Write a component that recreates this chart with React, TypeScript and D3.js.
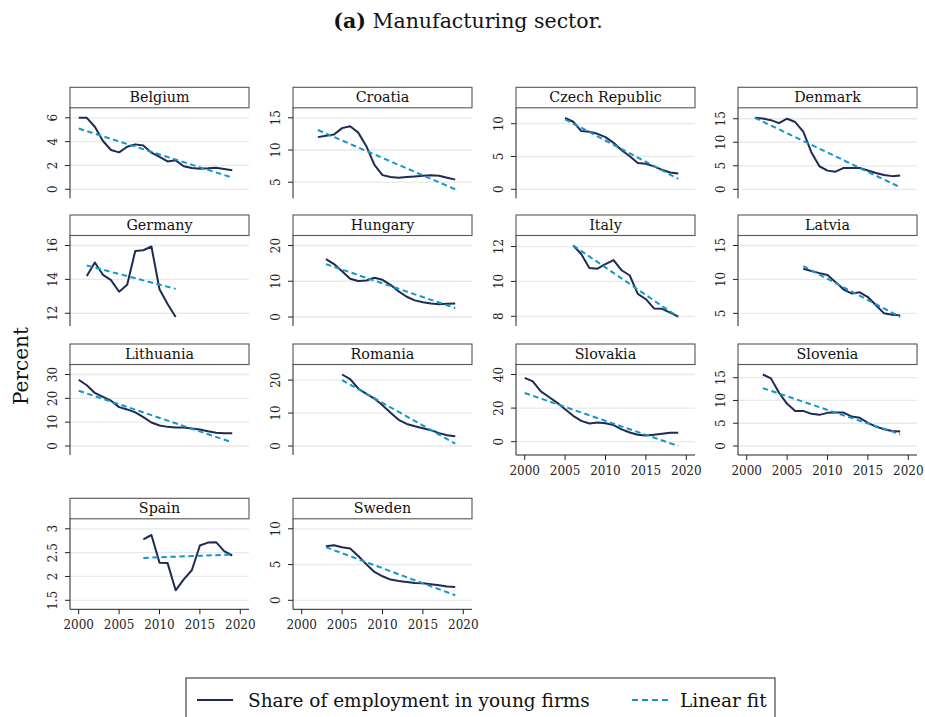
import React from "react";
import * as d3 from "d3";

const countries = ["Belgium", "Croatia", "Czech Republic", "Denmark", "Germany", "Hungary", "Italy", "Latvia", "Lithuania", "Romania", "Slovakia", "Slovenia", "Spain", "Sweden"];
const startYears = [2000, 2002, 2005, 2001, 2001, 2003, 2006, 2007, 2000, 2005, 2000, 2002, 2008, 2003];

const belgium = [6.0, 6.0, 5.25, 4.05, 3.3, 3.1, 3.57, 3.77, 3.68, 3.07, 2.73, 2.34, 2.43, 1.93, 1.79, 1.73, 1.76, 1.81, 1.7, 1.59];
const croatia = [12.0, 12.2, 12.4, 13.4, 13.7, 12.7, 10.6, 7.7, 6.1, 5.8, 5.7, 5.8, 5.9, 6.0, 6.1, 6.0, 5.7, 5.4];
const czech = [10.9, 10.3, 8.87, 8.77, 8.46, 7.95, 7.08, 5.95, 5.03, 4.0, 3.9, 3.49, 2.97, 2.56, 2.41];
const denmark = [15.2, 15.07, 14.7, 14.06, 15.0, 14.3, 12.25, 7.9, 4.9, 3.97, 3.75, 4.54, 4.54, 4.54, 4.0, 3.46, 3.03, 2.8, 2.95];
const germany = [14.2, 15.0, 14.27, 13.96, 13.27, 13.68, 15.68, 15.72, 15.94, 13.42, 12.55, 11.78];
const hungary = [16.2, 14.8, 12.8, 10.7, 10.05, 10.2, 10.98, 10.4, 9.0, 7.16, 5.67, 4.65, 4.1, 3.8, 3.6, 3.7, 3.8];
const italy = [12.06, 11.57, 10.77, 10.73, 10.99, 11.22, 10.64, 10.34, 9.29, 8.98, 8.45, 8.43, 8.21, 7.98];
const latvia = [11.57, 11.23, 10.93, 10.64, 9.6, 8.5, 7.94, 8.1, 7.4, 6.2, 5.0, 4.8, 4.7];
const lithuania = [27.8, 25.5, 22.25, 20.6, 19.0, 16.3, 15.35, 14.1, 12.1, 9.86, 8.6, 8.03, 7.75, 7.75, 7.3, 6.9, 6.2, 5.6, 5.35, 5.35];
const romania = [21.7, 20.3, 17.45, 15.8, 14.4, 12.35, 10.1, 7.96, 6.7, 6.0, 5.4, 4.8, 3.9, 3.27, 2.96];
const slovakia = [38.0, 35.9, 29.95, 26.6, 23.25, 19.3, 15.4, 12.4, 10.84, 11.4, 11.0, 9.85, 7.3, 5.5, 4.1, 3.74, 4.1, 4.7, 5.3, 5.3];
const slovenia = [15.7, 14.85, 11.7, 9.26, 7.7, 7.7, 7.06, 6.84, 7.28, 7.35, 7.35, 6.47, 6.18, 5.07, 4.26, 3.68, 3.3, 3.16];
const spain = [2.78, 2.87, 2.29, 2.28, 1.71, 1.94, 2.13, 2.65, 2.71, 2.72, 2.53, 2.44];
const sweden = [7.57, 7.7, 7.43, 7.24, 6.2, 5.05, 3.97, 3.36, 2.9, 2.7, 2.57, 2.43, 2.38, 2.24, 2.1, 1.92, 1.87];

const seriesValues = [belgium, croatia, czech, denmark, germany, hungary, italy, latvia, lithuania, romania, slovakia, slovenia, spain, sweden];

// linear fit values at first and last year
const fitStart = [5.1, 13.1, 10.67, 15.2, 14.82, 14.8, 12.06, 11.96, 23.2, 20.0, 29.0, 12.7, 2.39, 7.43];
const fitEnd = [0.98, 3.9, 1.6, 0.43, 13.44, 2.5, 7.96, 4.46, 1.55, 0.71, -2.56, 2.57, 2.46, 0.7];

const yTicks = [
  [0, 2, 4, 6], [5, 10, 15], [0, 5, 10], [0, 5, 10, 15],
  [12, 14, 16], [0, 10, 20], [8, 10, 12], [5, 10, 15],
  [0, 10, 20, 30], [0, 10, 20], [0, 20, 40], [0, 5, 10, 15],
  [1.5, 2, 2.5, 3], [0, 5, 10],
];
const xTicks = [2000, 2005, 2010, 2015, 2020];
const xDomain = [2000, 2020];

const titleLabel = "Manufacturing sector.";
const yLabel = "Percent";
const legendLabels = ["Share of employment in young firms", "Linear fit"];

const FONT = "'DejaVu Serif', serif";
const NAVY = "#1e2b52";
const FIT = "#1596c9";

const colLeft = [70, 293, 516, 738];
const panelW = 179;
const rowTop = [87.3, 215, 344, 498.3];
const headH = 20.5;
const plotH = 90.5;
const bottomPanels = new Set([10, 11, 12, 13]);

function Panel({ idx }: { idx: number }) {
  const row = Math.floor(idx / 4);
  const col = idx % 4;
  const left = colLeft[col];
  const top = rowTop[row];
  const plotTop = top + headH;
  const plotBottom = plotTop + plotH;
  const vals = seriesValues[idx];
  const start = startYears[idx];
  const years = vals.map((_, i) => start + i);
  const endYear = years[years.length - 1];
  const ticks = yTicks[idx];
  const ext = d3.extent([...vals, fitStart[idx], fitEnd[idx], ...ticks]) as [number, number];
  const x = d3.scaleLinear().domain(xDomain).range([left + 8.7, left + panelW - 8.7]);
  const y = d3.scaleLinear().domain(ext).range([plotBottom - 9, plotTop + 10]);
  const line = d3.line<number>().x((_, i) => x(years[i])).y((d) => y(d));
  const fitLine = d3.line<[number, number]>().x((d) => x(d[0])).y((d) => y(d[1]));
  const fitPts: [number, number][] = [[start, fitStart[idx]], [endYear, fitEnd[idx]]];
  const showX = bottomPanels.has(idx);
  return (
    <g>
      {ticks.map((t) => (
        <line key={"g" + t} x1={left} x2={left + panelW} y1={y(t)} y2={y(t)} stroke="#e9e9e9" strokeWidth={1.3} />
      ))}
      <rect x={left} y={top} width={panelW} height={headH} fill="#fff" stroke="#555" strokeWidth={1.1} />
      <text x={left + panelW / 2} y={top + 14.8} textAnchor="middle" fontFamily={FONT} fontSize={14.3} fill="#111">
        {countries[idx]}
      </text>
      <line x1={left} x2={left} y1={plotTop} y2={plotBottom} stroke="#222" strokeWidth={1} />
      {ticks.map((t) => (
        <g key={"t" + t}>
          <line x1={left - 5} x2={left} y1={y(t)} y2={y(t)} stroke="#222" strokeWidth={1} />
          <text transform={`translate(${left - 13},${y(t)}) rotate(-90)`} textAnchor="middle" fontFamily={FONT} fontSize={12} fill="#222">
            {String(t)}
          </text>
        </g>
      ))}
      {showX && (
        <g>
          <line x1={left} x2={left + panelW} y1={plotBottom} y2={plotBottom} stroke="#222" strokeWidth={1} />
          {xTicks.map((t) => (
            <g key={"x" + t}>
              <line x1={x(t)} x2={x(t)} y1={plotBottom} y2={plotBottom + 5} stroke="#222" strokeWidth={1} />
              <text x={x(t)} y={plotBottom + 20} textAnchor="middle" fontFamily={FONT} fontSize={12} fill="#222">
                {String(t)}
              </text>
            </g>
          ))}
        </g>
      )}
      <path d={line(vals) || ""} fill="none" stroke={NAVY} strokeWidth={2} strokeLinejoin="round" />
      <path d={fitLine(fitPts) || ""} fill="none" stroke={FIT} strokeWidth={2} strokeDasharray="5.5,3.5" />
    </g>
  );
}

export default function App() {
  return (
    <svg width={925} height={717} style={{ position: "absolute", left: 0, top: 0, background: "#fff" }}>
      <rect x={0} y={0} width={925} height={717} fill="#fff" />
      <text x={468} y={27.5} textAnchor="middle" fontFamily={FONT} fontSize={20.5} fill="#111">
        <tspan fontWeight="bold">(a)</tspan>
        <tspan> {titleLabel}</tspan>
      </text>
      <text transform="translate(28,366) rotate(-90)" textAnchor="middle" fontFamily={FONT} fontSize={20} fill="#111">
        {yLabel}
      </text>
      {countries.map((_, i) => (
        <Panel key={i} idx={i} />
      ))}
      <rect x={186} y={678} width={589} height={60} fill="#fff" stroke="#333" strokeWidth={1.1} />
      <line x1={197} x2={233} y1={700} y2={700} stroke={NAVY} strokeWidth={2.2} />
      <text x={248} y={707} fontFamily={FONT} fontSize={18.5} fill="#111">{legendLabels[0]}</text>
      <line x1={632} x2={668} y1={700} y2={700} stroke={FIT} strokeWidth={2.2} strokeDasharray="6,4" />
      <text x={680} y={707} fontFamily={FONT} fontSize={18.5} fill="#111">{legendLabels[1]}</text>
    </svg>
  );
}
